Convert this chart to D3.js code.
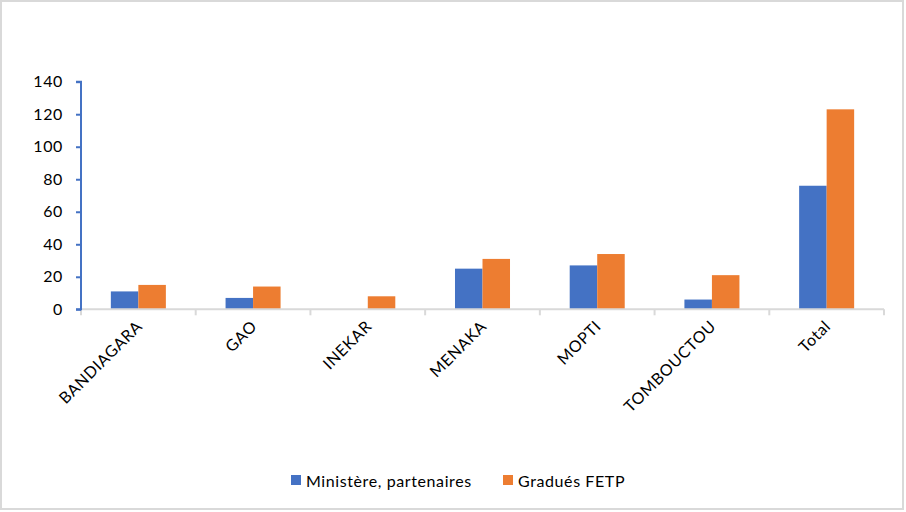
<!DOCTYPE html>
<html><head><meta charset="utf-8">
<script src="https://cdn.jsdelivr.net/npm/d3@7"></script>
<style>body{margin:0;background:#fff}svg{display:block}text{font-family:Lato,"Open Sans",sans-serif;fill:#000;letter-spacing:0.6px}</style>
</head><body><svg id="c" width="906" height="512"></svg>
<script>
const categories = ["BANDIAGARA","GAO","INEKAR","MENAKA","MOPTI","TOMBOUCTOU","Total"];
const seriesNames = ["Ministère, partenaires","Gradués FETP"];
const ministere = [11,7,0,25,27,6,76];
const gradues = [15,14,8,31,34,21,123];
const yTicks = [0,20,40,60,80,100,120,140];
const colors = ["#4472C4","#ED7D31"];

const svg = d3.select("#c");
svg.append("rect").attr("x",1).attr("y",1).attr("width",902).attr("height",508)
  .attr("fill","#fff").attr("stroke","#d9d9d9").attr("stroke-width",2);

const mL = 81, mR = 884, mT = 81.7, mB = 309.3;
const x = d3.scaleBand().domain(categories).range([mL,mR]);
const xs = d3.scaleBand().domain(seriesNames).range([0,x.bandwidth()]).paddingInner(0).paddingOuter(1.085);
const y = d3.scaleLinear().domain([0,140]).range([mB,mT]);

const data = categories.map((c,i)=>({c, v:[ministere[i],gradues[i]]}));
const g = svg.append("g");
g.selectAll("g.cat").data(data).join("g").attr("class","cat")
  .attr("transform",d=>`translate(${x(d.c)},0)`)
  .selectAll("rect").data(d=>d.v.map((v,j)=>({v,j})))
  .join("rect")
  .attr("x",d=>xs(seriesNames[d.j])).attr("width",xs.bandwidth())
  .attr("y",d=>y(d.v)).attr("height",d=>mB-y(d.v))
  .attr("fill",d=>colors[d.j]);

// x axis
const xAxis = svg.append("g").attr("transform",`translate(0,${mB})`);
xAxis.append("line").attr("x1",mL).attr("x2",mR).attr("stroke","#d9d9d9").attr("stroke-width",2);
const bounds = categories.map(c=>x(c)).concat([mR]);
xAxis.selectAll("line.t").data(bounds).join("line").attr("class","t")
  .attr("x1",d=>d).attr("x2",d=>d).attr("y1",0).attr("y2",6)
  .attr("stroke","#d9d9d9").attr("stroke-width",2);
xAxis.selectAll("text").data(categories).join("text")
  .attr("transform",d=>`translate(${x(d)+x.bandwidth()/2+5},${18}) rotate(-45)`)
  .attr("text-anchor","end").attr("font-size",16).text(d=>d);

// y axis
const yAxis = svg.append("g").attr("transform",`translate(${mL},0)`)
  .call(d3.axisLeft(y).tickValues(yTicks).tickSize(5).tickPadding(13));
yAxis.select(".domain").attr("stroke","#4472C4").attr("stroke-width",2).attr("d",`M-5,${mT}H0V${mB}H-5`);
yAxis.selectAll(".tick line").attr("stroke","#4472C4").attr("stroke-width",2);
yAxis.selectAll(".tick text").attr("font-size",16).attr("font-family","Lato,sans-serif").attr("fill","#000");

// legend
const leg = svg.append("g");
const lx = [291,503];
seriesNames.forEach((n,i)=>{
  leg.append("rect").attr("x",lx[i]).attr("y",475).attr("width",10).attr("height",10).attr("fill",colors[i]);
  leg.append("text").attr("x",lx[i]+15).attr("y",486.5).attr("font-size",16).text(n);
});
</script></body></html>
